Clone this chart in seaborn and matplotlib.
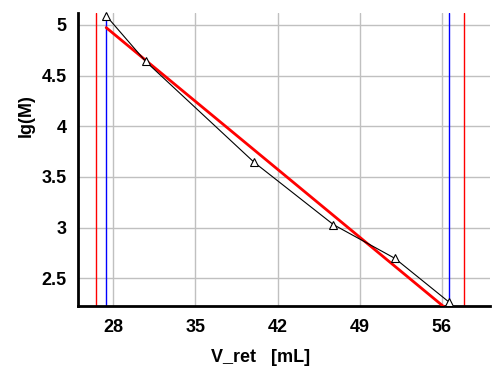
import matplotlib
matplotlib.use("Agg")
import seaborn as sns
import matplotlib.pyplot as plt
import pandas as pd

# calibration points (retention volume vs lg of molar mass)
v_ret = [27.40, 30.76, 40.00, 46.76, 52.00, 56.64]
lg_m = [5.09, 4.64, 3.645, 3.03, 2.697, 2.263]

# linear fit line
fit_x = [27.40, 56.64]
fit_y = [4.973, 2.175]

# limit markers
red_limits = [26.55, 57.92]
blue_limits = [27.40, 56.64]

x_ticks = [28, 35, 42, 49, 56]
y_ticks = [2.5, 3, 3.5, 4, 4.5, 5]

df = pd.DataFrame({"V_ret": v_ret, "lg_M": lg_m})

sns.set_style("white")
plt.rcParams["font.family"] = ["Liberation Sans", "DejaVu Sans"]
plt.rcParams["font.weight"] = "bold"
plt.rcParams["text.color"] = "black"
plt.rcParams["axes.labelcolor"] = "black"
plt.rcParams["xtick.color"] = "black"
plt.rcParams["ytick.color"] = "black"

fig = plt.figure(figsize=(5.02, 3.77), dpi=100)
ax = fig.add_axes([0.1554, 0.1883, 0.8206, 0.778])

ax.grid(True, color="#c0c0c0", linewidth=1)
ax.set_axisbelow(True)

for x in red_limits:
    ax.axvline(x, color="red", linewidth=1, zorder=2)
for x in blue_limits:
    ax.axvline(x, color="blue", linewidth=1, zorder=2)

sns.lineplot(x=fit_x, y=fit_y, ax=ax, color="red", linewidth=2, zorder=3)
sns.lineplot(data=df, x="V_ret", y="lg_M", ax=ax, color="black", linewidth=0.8,
             marker="^", markersize=6, markerfacecolor="white",
             markeredgecolor="black", markeredgewidth=0.8, zorder=4,
             clip_on=False)

ax.set_xlim(25.0, 60.1)
ax.set_ylim(2.227, 5.12)
ax.set_xticks(x_ticks)
ax.set_yticks(y_ticks)
ax.set_xticklabels([str(t) for t in x_ticks])
ax.set_yticklabels([f"{t:g}" for t in y_ticks])

ax.tick_params(axis="both", direction="out", length=4, width=1.5,
               labelsize=13, colors="black", pad=4)
ax.tick_params(axis="x", pad=5)
for lab in ax.get_xticklabels() + ax.get_yticklabels():
    lab.set_fontweight("bold")

for side in ["top", "right"]:
    ax.spines[side].set_visible(False)
for side in ["left", "bottom"]:
    ax.spines[side].set_color("black")
    ax.spines[side].set_linewidth(2)

ax.set_xlabel("V_ret   [mL]", fontsize=13, fontweight="bold", color="black")
ax.set_ylabel("lg(M)", fontsize=13, fontweight="bold", color="black")
ax.xaxis.set_label_coords(0.442, -0.177)
ax.yaxis.set_label_coords(-0.126, 0.65)
ax.xaxis.label.set_va("center")
ax.yaxis.label.set_va("center")

fig.savefig("out.png", dpi=100)
